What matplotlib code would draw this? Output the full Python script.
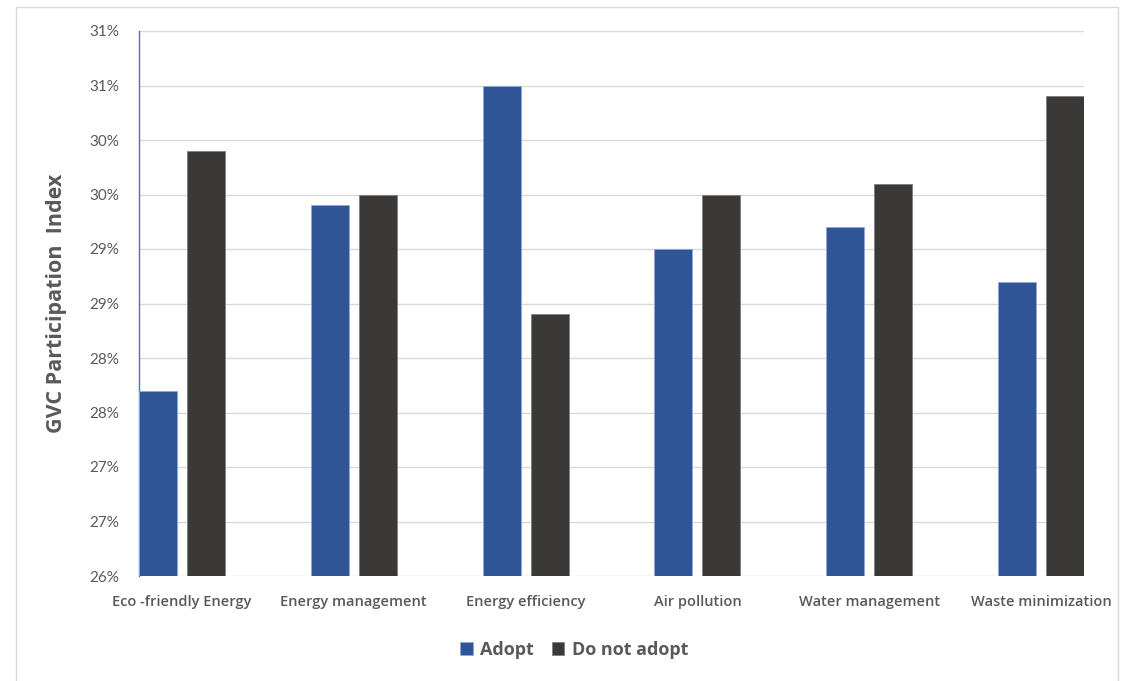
import numpy as np
import matplotlib
matplotlib.use('Agg')
import matplotlib.pyplot as plt
from matplotlib.patches import Rectangle

categories = ["Eco -friendly Energy", "Energy management", "Energy efficiency",
              "Air pollution", "Water management", "Waste minimization"]
adopt = [27.7, 29.4, 30.5, 29.0, 29.2, 28.7]
not_adopt = [29.9, 29.5, 28.4, 29.5, 29.6, 30.4]
yticks = [26.0, 26.5, 27.0, 27.5, 28.0, 28.5, 29.0, 29.5, 30.0, 30.5, 31.0]
ytick_labels = ["26%", "27%", "27%", "28%", "28%", "29%", "29%", "30%", "30%", "31%", "31%"]

blue = '#2F5597'
dark = '#3B3838'
txt = '#595959'
plt.rcParams['font.family'] = ['Lato', 'DejaVu Sans']
bold_font = ['Open Sans', 'DejaVu Sans']

fig = plt.figure(figsize=(11.22, 6.81), dpi=100)
# light frame around the whole chart
fig.patches.append(Rectangle((16/1122, -0.01), (1118-16)/1122, 1 - 7/681 + 0.01,
                             transform=fig.transFigure, fill=False,
                             edgecolor='#D9D9D9', linewidth=1.0))

ax = fig.add_axes([139/1122, 1-576/681, (1084-139)/1122, (576-31)/681])
x = np.arange(len(categories))
w = 0.221
ax.bar(x - 0.25 + w/2, adopt, w, color=blue, edgecolor='#8EA9DB',
       linewidth=0.6, label='Adopt', zorder=3)
ax.bar(x + 0.25 - w/2, not_adopt, w, color=dark, edgecolor='#7F7F7F',
       linewidth=0.6, label='Do not adopt', zorder=3)

ax.set_ylim(26, 31)
ax.set_xlim(-0.25, len(categories) - 0.75)
ax.set_yticks(yticks)
ax.set_yticklabels(ytick_labels, fontsize=11, color=txt)
ax.set_xticks(x)
ax.set_xticklabels(categories, fontsize=10.5, color=txt, fontweight='semibold',
                   family=bold_font)
ax.tick_params(axis='both', length=0)
ax.tick_params(axis='y', pad=14)
ax.tick_params(axis='x', pad=14)
ax.grid(axis='y', color='#D9D9D9', linewidth=1.0, zorder=0)
for s in ['top', 'right', 'bottom']:
    ax.spines[s].set_visible(False)
ax.spines['left'].set_color('#4472C4')
ax.spines['left'].set_linewidth(1.0)
ax.set_ylabel("GVC Participation  Index", fontsize=15.5, fontweight='bold',
              color=txt, labelpad=16, family=bold_font)

fig.legend(loc='center', bbox_to_anchor=(574/1122, 1-650/681), ncol=2,
           frameon=False, prop={'size': 13, 'weight': 'bold', 'family': bold_font},
           labelcolor=txt, handlelength=0.7, handleheight=0.7,
           handletextpad=0.4, columnspacing=1.0)

fig.savefig('out.png', dpi=100)
